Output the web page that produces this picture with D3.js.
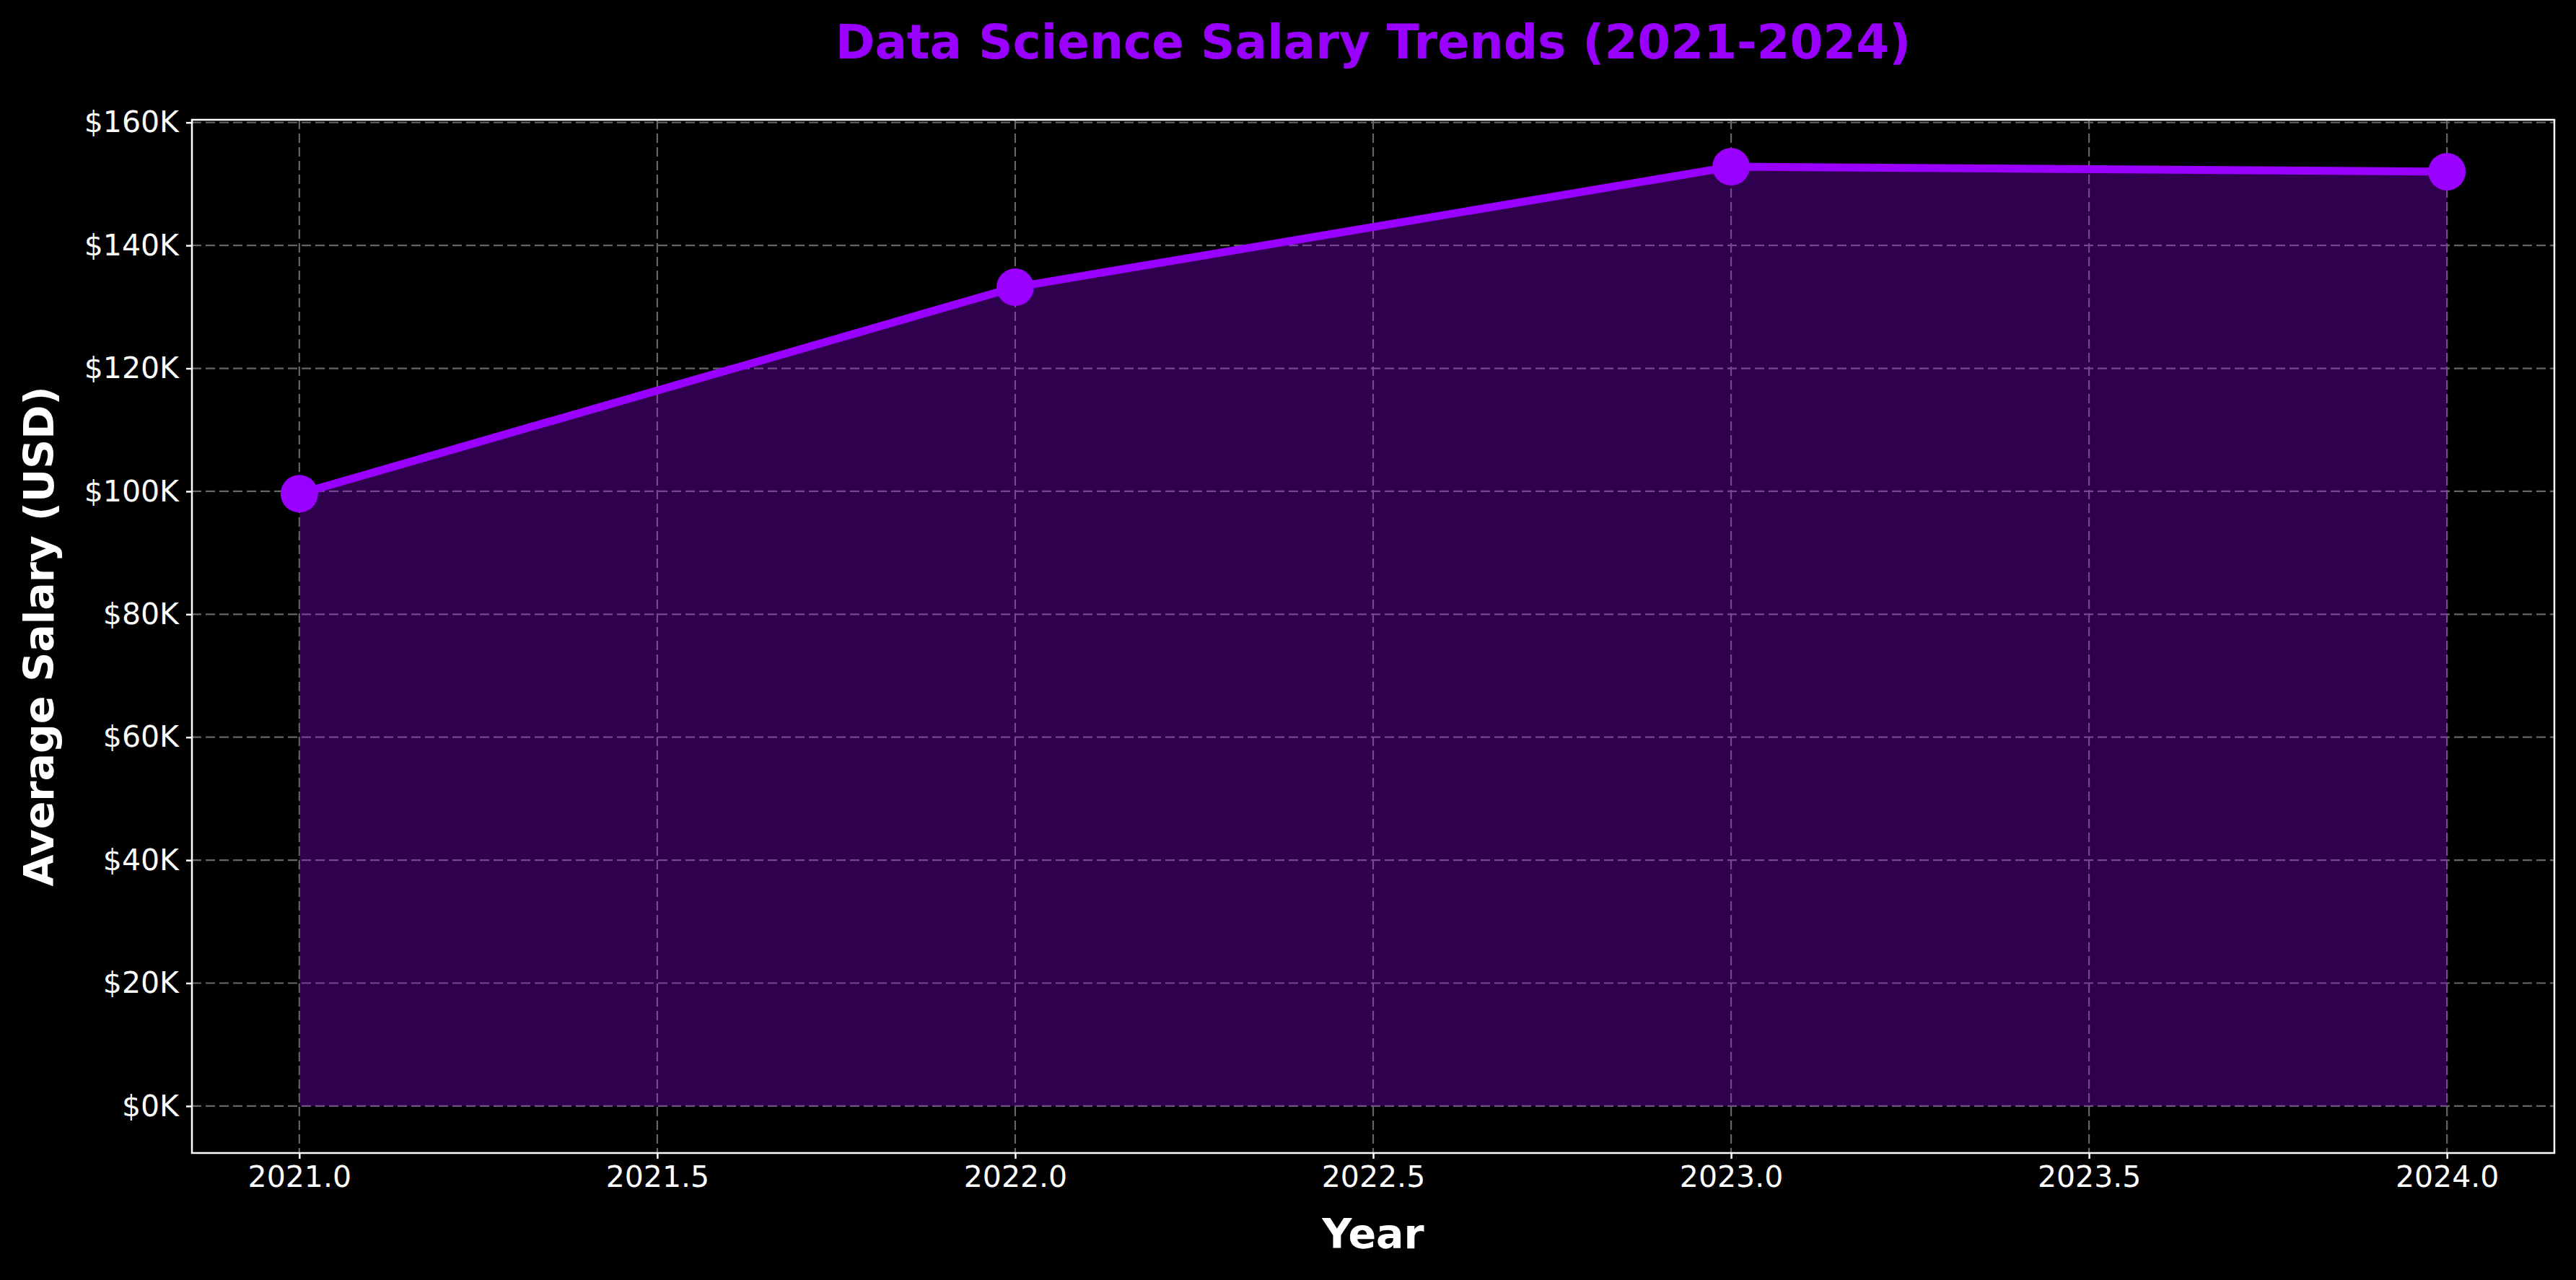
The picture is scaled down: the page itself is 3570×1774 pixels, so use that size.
<!DOCTYPE html>
<html><head><meta charset="utf-8">
<script src="https://cdn.jsdelivr.net/npm/d3@7"></script>
<style>body{margin:0;background:#000}svg{display:block}text{font-family:"DejaVu Sans",sans-serif}</style>
</head><body><svg id="c" width="3570" height="1774"></svg>
<script>
const years=[2021,2022,2023,2024];
const salaries=[99600,133200,152800,152000];
const yTicks=[0,20000,40000,60000,80000,100000,120000,140000,160000];
const xTicks=[2021,2021.5,2022,2022.5,2023,2023.5,2024];

const W=3570,H=1774,m={l:266,r:30,t:166,b:176};
const svg=d3.select("#c");
svg.append("rect").attr("width",W).attr("height",H).attr("fill","#000");
const x=d3.scaleLinear().domain([2020.85,2024.15]).range([m.l,W-m.r]);
const y=d3.scaleLinear().domain([-7640,160440]).range([H-m.b,m.t]);
const g=svg.append("g");
g.selectAll(".gx").data(xTicks).join("line").attr("x1",d=>x(d)).attr("x2",d=>x(d)).attr("y1",m.t).attr("y2",H-m.b)
 .attr("stroke","#666").attr("stroke-width",2.2).attr("stroke-dasharray","13,6");
g.selectAll(".gy").data(yTicks).join("line").attr("y1",d=>y(d)).attr("y2",d=>y(d)).attr("x1",m.l).attr("x2",W-m.r)
 .attr("stroke","#666").attr("stroke-width",2.2).attr("stroke-dasharray","13,6");
const pts=years.map((d,i)=>[d,salaries[i]]);
g.append("path").datum(pts).attr("d",d3.area().x(d=>x(d[0])).y0(y(0)).y1(d=>y(d[1])))
 .attr("fill","#9900ff").attr("fill-opacity",0.3);
g.append("path").datum(pts).attr("d",d3.line().x(d=>x(d[0])).y(d=>y(d[1])))
 .attr("fill","none").attr("stroke","#9900ff").attr("stroke-width",11).attr("stroke-linejoin","round");
g.selectAll("circle").data(pts).join("circle").attr("cx",d=>x(d[0])).attr("cy",d=>y(d[1])).attr("r",26).attr("fill","#9900ff");
const xa=svg.append("g").attr("transform",`translate(0,${H-m.b})`).call(d3.axisBottom(x).tickValues(xTicks).tickFormat(d3.format(".1f")).tickSizeOuter(0).tickSize(8).tickPadding(10));
const ya=svg.append("g").attr("transform",`translate(${m.l},0)`).call(d3.axisLeft(y).tickValues(yTicks).tickFormat(d=>"$"+(d/1000)+"K").tickSizeOuter(0).tickSize(8).tickPadding(10));
[xa,ya].forEach(a=>{a.select(".domain").remove();a.selectAll("line").attr("stroke","#fff").attr("stroke-width",2.5);
 a.selectAll("text").attr("fill","#fff").attr("font-size",41).attr("font-family","DejaVu Sans");});
svg.append("rect").attr("x",m.l).attr("y",m.t).attr("width",W-m.l-m.r).attr("height",H-m.t-m.b)
 .attr("fill","none").attr("stroke","#fff").attr("stroke-width",2.5);
svg.append("text").attr("x",(m.l+W-m.r)/2).attr("y",81).attr("text-anchor","middle").attr("fill","#9900ff")
 .attr("font-size",66).attr("font-weight","bold").text("Data Science Salary Trends (2021-2024)");
svg.append("text").attr("x",(m.l+W-m.r)/2).attr("y",1730).attr("text-anchor","middle").attr("fill","#fff")
 .attr("font-size",57).attr("font-weight","bold").text("Year");
svg.append("text").attr("transform",`translate(74,${(m.t+H-m.b)/2}) rotate(-90)`).attr("text-anchor","middle").attr("fill","#fff")
 .attr("font-size",57).attr("font-weight","bold").text("Average Salary (USD)");
</script></body></html>
